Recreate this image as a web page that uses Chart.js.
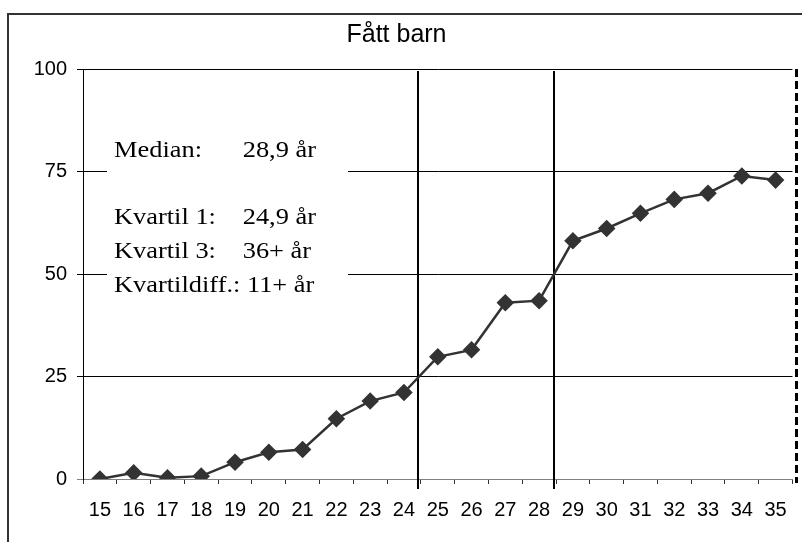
<!DOCTYPE html>
<html>
<head>
<meta charset="utf-8">
<script src="https://cdn.jsdelivr.net/npm/chart.js@4.4.0/dist/chart.umd.min.js"></script>
<style>
  html, body { margin: 0; padding: 0; background: #fff; }
  #wrap { width: 802px; height: 542px; }
</style>
</head>
<body>
<div id="wrap"><canvas id="chart" width="802" height="542"></canvas></div>
<script>
const ages = ['15', '16', '17', '18', '19', '20', '21', '22', '23', '24', '25',
  '26', '27', '28', '29', '30', '31', '32', '33', '34', '35']
const share = [0, 1.5, 0.3, 0.7, 4.1, 6.5, 7.2, 14.7, 19.0, 21.1, 29.8,
  31.5, 43.0, 43.5, 58.1, 61.1, 64.8, 68.2, 69.7, 73.9, 72.9]
const yTicks = [0, 25, 50, 75, 100]

// kvartil 1 og median (alder i år), kvartil 3 er over 36
const quartileAges = [24.9, 28.9]
const openEndAge = 36

const statNames = ['Median:', 'Kvartil 1:', 'Kvartil 3:', 'Kvartildiff.:']
const statValues = ['28,9 år', '24,9 år', '36+ år', '11+ år']

const SANS = '"Liberation Sans", Arial, sans-serif'
const SERIF = '"Liberation Serif", "Times New Roman", serif'

// alder -> x-piksel, første kategori starter på alder 15
const ageToPixel = (scale, age) => scale.getPixelForValue(age - 15.5)

const frame = {
    id: 'frame',
    beforeDraw(chart) {
        const ctx = chart.ctx
        ctx.save()
        ctx.strokeStyle = '#333'
        ctx.lineWidth = 2
        ctx.strokeRect(8, 14, 900, 600)
        ctx.restore()
    }
}

const statsBox = {
    id: 'statsBox',
    beforeDatasetsDraw(chart) {
        const ctx = chart.ctx
        const x = chart.scales.x
        const y = chart.scales.y
        const top = y.getPixelForValue(100)
        const bottom = y.getPixelForValue(0)

        ctx.save()
        ctx.fillStyle = '#fff'
        ctx.fillRect(107, 125, 241, 175)

        ctx.fillStyle = '#000'
        ctx.font = '24px ' + SERIF
        ctx.textBaseline = 'alphabetic'
        const rows = [157, 224, 258, 292]
        statNames.forEach((name, i) => {
            ctx.save()
            ctx.translate(114, rows[i])
            ctx.scale(1.1, 1)
            ctx.fillText(name, 0, 0)
            const w = ctx.measureText(name + ' ').width
            ctx.fillText(statValues[i], Math.max(117, w), 0)
            ctx.restore()
        })

        // vertikale linjer for kvartil 1 og median
        ctx.strokeStyle = '#000'
        ctx.lineWidth = 2
        for (const age of quartileAges) {
            const px = Math.round(ageToPixel(x, age)) + 1
            ctx.beginPath()
            ctx.moveTo(px, top + 2)
            ctx.lineTo(px, bottom + 10)
            ctx.stroke()
        }

        // stiplet linje for kvartil 3 (36+)
        const pe = ageToPixel(x, openEndAge) + 4
        ctx.lineWidth = 3
        ctx.setLineDash([8, 4])
        ctx.beginPath()
        ctx.moveTo(pe, top)
        ctx.lineTo(pe, bottom + 4)
        ctx.stroke()
        ctx.restore()
    }
}

new Chart(document.getElementById('chart'), {
    type: 'line',
    data: {
        labels: ages,
        datasets: [{
            data: share,
            borderColor: '#333',
            backgroundColor: '#333',
            borderWidth: 2.5,
            pointStyle: 'rectRot',
            pointRadius: 7,
            pointHoverRadius: 7,
            tension: 0,
        }]
    },
    options: {
        responsive: false,
        animation: false,
        layout: { padding: { top: 0, left: 0, right: 9, bottom: 0 } },
        plugins: {
            legend: { display: false },
            tooltip: { enabled: false },
            title: {
                display: true,
                text: 'Fått barn',
                color: '#000',
                font: { family: SANS, size: 25, weight: 'normal' },
                padding: { top: 20, bottom: 19 },
            },
        },
        scales: {
            x: {
                offset: true,
                grid: {
                    offset: true,
                    drawOnChartArea: false,
                    drawTicks: true,
                    tickLength: 5,
                    color: '#333',
                },
                border: { color: '#808080', width: 1 },
                ticks: {
                    color: '#000',
                    padding: 14,
                    maxRotation: 0,
                    autoSkip: false,
                    font: { family: SANS, size: 20 },
                },
                afterFit(scale) { scale.height = 63 },
            },
            y: {
                min: 0,
                max: 100,
                afterBuildTicks(scale) {
                    scale.ticks = yTicks.map(v => ({ value: v }))
                },
                grid: {
                    color: ctx => ctx.tick && ctx.tick.value === 0 ? '#808080' : '#000',
                    lineWidth: 1,
                    tickLength: 6,
                },
                border: { color: '#000', width: 1 },
                ticks: {
                    color: '#000',
                    padding: 10,
                    font: { family: SANS, size: 20 },
                },
                afterFit(scale) { scale.width = 83 },
            },
        },
    },
    plugins: [frame, statsBox],
})
</script>
</body>
</html>
